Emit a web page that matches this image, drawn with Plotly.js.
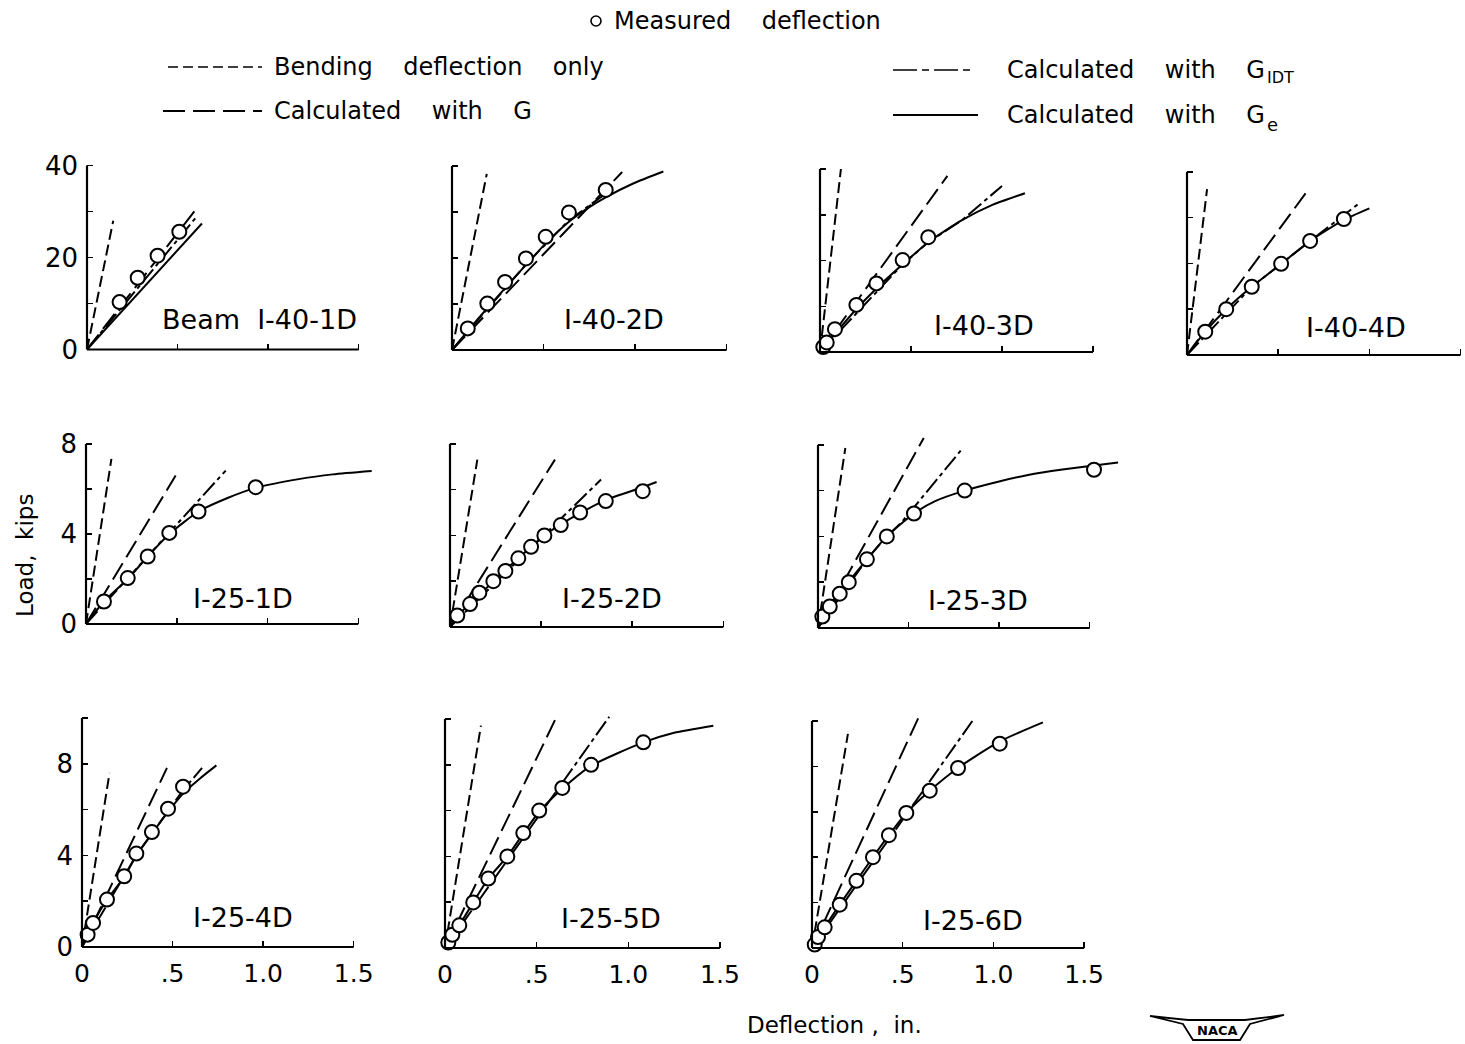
<!DOCTYPE html>
<html><head><meta charset="utf-8">
<script src="https://cdn.plot.ly/plotly-3.0.1.min.js"></script>
<style>html,body{margin:0;padding:0;background:#fff}#chart{width:1465px;height:1044px}</style>
</head><body><div id="chart"></div>
<script>
// ================= DATA =================
const panelNames = ['Beam\u00a0\u00a0I-40-1D','I-40-2D','I-40-3D','I-40-4D','I-25-1D','I-25-2D','I-25-3D','I-25-4D','I-25-5D','I-25-6D'];
const xTickVals = [0, 0.5, 1.0, 1.5];
const xTickText = ['0', '.5', '1.0', '1.5'];
const yMajor40 = [0, 20, 40];  const yMinor40 = [10, 30];
const yMajor8 = [0, 4, 8];     const yMinor8 = [2, 6];
const yMajor10 = [0, 4, 8];    const yMinor10 = [2, 6, 10];

// I-40-1D
const i40_1_measX = [0.18, 0.28, 0.39, 0.51];
const i40_1_measY = [10.3, 15.6, 20.4, 25.6];
const i40_1_bendX = [0, 0.145]; const i40_1_bendY = [0, 28];
const i40_1_gX = [0, 0.61];     const i40_1_gY = [0, 30.9];
const i40_1_idtX = [0, 0.60];   const i40_1_idtY = [0, 28.6];
const i40_1_geX = [0, 0.635];   const i40_1_geY = [0, 27.4];
// I-40-2D
const i40_2_measX = [0.086, 0.193, 0.29, 0.404, 0.512, 0.639, 0.84];
const i40_2_measY = [4.7, 10.1, 14.8, 19.9, 24.6, 29.9, 34.8];
const i40_2_bendX = [0, 0.19];  const i40_2_bendY = [0, 38.3];
const i40_2_gX = [0, 0.93];     const i40_2_gY = [0, 38.7];
const i40_2_idtX = [0, 0.404, 0.639, 0.84];  const i40_2_idtY = [0, 18.6, 28.2, 34.0];
const i40_2_geX = [0, 0.1, 0.193, 0.3, 0.404, 0.52, 0.639, 0.74, 0.84, 0.99, 1.155];
const i40_2_geY = [0, 4.8, 9.1, 13.9, 18.5, 23.5, 27.9, 30.8, 33.2, 36.2, 38.8];
// I-40-3D
const i40_3_measX = [0.018, 0.037, 0.082, 0.20, 0.31, 0.454, 0.595];
const i40_3_measY = [1.1, 2.1, 5.0, 10.3, 15.0, 20.1, 25.1];
const i40_3_bendX = [0, 0.115]; const i40_3_bendY = [0, 40];
const i40_3_gX = [0, 0.70];     const i40_3_gY = [0, 38.5];
const i40_3_idtX = [0, 0.45, 0.595, 0.78, 1.0]; const i40_3_idtY = [0, 19.0, 24.0, 28.8, 36.3];
const i40_3_geX = [0, 0.1, 0.2, 0.31, 0.45, 0.595, 0.78, 0.95, 1.126];
const i40_3_geY = [0, 4.8, 9.4, 13.9, 19.0, 24.0, 28.8, 32.2, 34.7];
// I-40-4D
const i40_4_measX = [0.10, 0.215, 0.355, 0.516, 0.675, 0.86];
const i40_4_measY = [5.1, 10.0, 14.9, 19.9, 24.9, 29.7];
const i40_4_bendX = [0, 0.11];  const i40_4_bendY = [0, 36.2];
const i40_4_gX = [0, 0.65];     const i40_4_gY = [0, 35.3];
const i40_4_idtX = [0, 0.355, 0.516, 0.675, 0.94]; const i40_4_idtY = [0, 14.9, 19.9, 24.9, 33.0];
const i40_4_geX = [0, 0.10, 0.215, 0.355, 0.516, 0.675, 0.86, 1.0];
const i40_4_geY = [0, 5.1, 10.0, 14.9, 19.9, 24.9, 29.5, 32.0];
// I-25-1D
const i25_1_measX = [0.099, 0.23, 0.34, 0.459, 0.62, 0.935];
const i25_1_measY = [1.0, 2.04, 3.0, 4.05, 5.0, 6.08];
const i25_1_bendX = [0, 0.14];  const i25_1_bendY = [0, 7.34];
const i25_1_gX = [0, 0.494];    const i25_1_gY = [0, 6.6];
const i25_1_idtX = [0, 0.77];   const i25_1_idtY = [0, 6.82];
const i25_1_geX = [0, 0.099, 0.23, 0.34, 0.459, 0.62, 0.78, 0.935, 1.18, 1.36, 1.574];
const i25_1_geY = [0, 1.0, 2.0, 3.0, 4.0, 5.0, 5.6, 6.05, 6.45, 6.65, 6.8];
// I-25-2D
const i25_2_measX = [0.04, 0.11, 0.161, 0.238, 0.304, 0.375, 0.445, 0.518, 0.608, 0.714, 0.855, 1.058];
const i25_2_measY = [0.5, 1.0, 1.5, 2.0, 2.45, 3.0, 3.5, 4.0, 4.45, 5.0, 5.5, 5.93];
const i25_2_bendX = [0, 0.15];  const i25_2_bendY = [0, 7.31];
const i25_2_gX = [0, 0.576];    const i25_2_gY = [0, 7.31];
const i25_2_idtX = [0, 0.829];  const i25_2_idtY = [0, 6.44];
const i25_2_geX = [0, 0.04, 0.11, 0.238, 0.375, 0.518, 0.608, 0.714, 0.855, 1.058, 1.134];
const i25_2_geY = [0, 0.5, 1.0, 2.0, 3.0, 4.0, 4.48, 4.97, 5.55, 6.1, 6.33];
// I-25-3D
const i25_3_measX = [0.024, 0.065, 0.12, 0.17, 0.27, 0.38, 0.53, 0.81, 1.524];
const i25_3_measY = [0.5, 0.94, 1.5, 2.0, 3.0, 4.0, 5.0, 6.0, 6.91];
const i25_3_bendX = [0, 0.151]; const i25_3_bendY = [0, 7.86];
const i25_3_gX = [0, 0.584];    const i25_3_gY = [0, 8.3];
const i25_3_idtX = [0, 0.27, 0.38, 0.46, 0.80]; const i25_3_idtY = [0, 3.0, 4.0, 4.6, 7.86];
const i25_3_geX = [0, 0.12, 0.27, 0.38, 0.53, 0.65, 0.81, 1.0, 1.16, 1.35, 1.524, 1.657];
const i25_3_geY = [0, 1.5, 3.0, 4.0, 5.0, 5.55, 6.0, 6.4, 6.68, 6.92, 7.1, 7.23];
// I-25-4D
const i25_4_measX = [0.031, 0.061, 0.138, 0.233, 0.30, 0.386, 0.475, 0.558];
const i25_4_measY = [0.54, 1.05, 2.07, 3.09, 4.08, 5.02, 6.04, 7.0];
const i25_4_bendX = [0, 0.152]; const i25_4_bendY = [0, 7.6];
const i25_4_gX = [0, 0.469];    const i25_4_gY = [0, 7.82];
const i25_4_idtX = [0, 0.30, 0.386, 0.475, 0.558, 0.663]; const i25_4_idtY = [0, 4.0, 4.95, 5.95, 6.85, 7.82];
const i25_4_geX = [0, 0.031, 0.061, 0.138, 0.233, 0.30, 0.386, 0.475, 0.558, 0.65, 0.742];
const i25_4_geY = [0, 0.54, 1.05, 2.07, 3.05, 4.0, 4.95, 5.9, 6.7, 7.35, 7.93];
// I-25-5D
const i25_5_measX = [0.018, 0.04, 0.078, 0.154, 0.236, 0.34, 0.427, 0.514, 0.64, 0.797, 1.082];
const i25_5_measY = [0.24, 0.58, 0.99, 1.99, 3.03, 4.0, 5.02, 6.0, 6.99, 8.0, 8.98];
const i25_5_bendX = [0, 0.196]; const i25_5_bendY = [0, 9.71];
const i25_5_gX = [0, 0.609];    const i25_5_gY = [0, 10.1];
const i25_5_idtX = [0, 0.896];  const i25_5_idtY = [0, 10.1];
const i25_5_geX = [0, 0.078, 0.154, 0.236, 0.34, 0.427, 0.514, 0.64, 0.797, 1.082, 1.25, 1.464];
const i25_5_geY = [0, 0.99, 1.99, 3.03, 4.0, 5.0, 5.95, 6.95, 7.95, 8.98, 9.4, 9.71];
// I-25-6D
const i25_6_measX = [0.015, 0.033, 0.07, 0.153, 0.245, 0.336, 0.424, 0.52, 0.649, 0.805, 1.035];
const i25_6_measY = [0.15, 0.48, 0.91, 1.91, 2.96, 4.0, 4.97, 5.95, 6.93, 7.93, 9.0];
const i25_6_bendX = [0, 0.198]; const i25_6_bendY = [0, 9.43];
const i25_6_gX = [0, 0.59];     const i25_6_gY = [0, 10.2];
const i25_6_idtX = [0, 0.884];  const i25_6_idtY = [0, 10.0];
const i25_6_geX = [0, 0.07, 0.153, 0.245, 0.336, 0.424, 0.52, 0.649, 0.805, 1.035, 1.273];
const i25_6_geY = [0, 0.91, 1.91, 2.96, 4.0, 4.97, 5.95, 6.93, 7.93, 9.1, 9.94];

const panelData = [
  {measX:i40_1_measX, measY:i40_1_measY, bendX:i40_1_bendX, bendY:i40_1_bendY, gX:i40_1_gX, gY:i40_1_gY, idtX:i40_1_idtX, idtY:i40_1_idtY, geX:i40_1_geX, geY:i40_1_geY},
  {measX:i40_2_measX, measY:i40_2_measY, bendX:i40_2_bendX, bendY:i40_2_bendY, gX:i40_2_gX, gY:i40_2_gY, idtX:i40_2_idtX, idtY:i40_2_idtY, geX:i40_2_geX, geY:i40_2_geY},
  {measX:i40_3_measX, measY:i40_3_measY, bendX:i40_3_bendX, bendY:i40_3_bendY, gX:i40_3_gX, gY:i40_3_gY, idtX:i40_3_idtX, idtY:i40_3_idtY, geX:i40_3_geX, geY:i40_3_geY},
  {measX:i40_4_measX, measY:i40_4_measY, bendX:i40_4_bendX, bendY:i40_4_bendY, gX:i40_4_gX, gY:i40_4_gY, idtX:i40_4_idtX, idtY:i40_4_idtY, geX:i40_4_geX, geY:i40_4_geY},
  {measX:i25_1_measX, measY:i25_1_measY, bendX:i25_1_bendX, bendY:i25_1_bendY, gX:i25_1_gX, gY:i25_1_gY, idtX:i25_1_idtX, idtY:i25_1_idtY, geX:i25_1_geX, geY:i25_1_geY},
  {measX:i25_2_measX, measY:i25_2_measY, bendX:i25_2_bendX, bendY:i25_2_bendY, gX:i25_2_gX, gY:i25_2_gY, idtX:i25_2_idtX, idtY:i25_2_idtY, geX:i25_2_geX, geY:i25_2_geY},
  {measX:i25_3_measX, measY:i25_3_measY, bendX:i25_3_bendX, bendY:i25_3_bendY, gX:i25_3_gX, gY:i25_3_gY, idtX:i25_3_idtX, idtY:i25_3_idtY, geX:i25_3_geX, geY:i25_3_geY},
  {measX:i25_4_measX, measY:i25_4_measY, bendX:i25_4_bendX, bendY:i25_4_bendY, gX:i25_4_gX, gY:i25_4_gY, idtX:i25_4_idtX, idtY:i25_4_idtY, geX:i25_4_geX, geY:i25_4_geY},
  {measX:i25_5_measX, measY:i25_5_measY, bendX:i25_5_bendX, bendY:i25_5_bendY, gX:i25_5_gX, gY:i25_5_gY, idtX:i25_5_idtX, idtY:i25_5_idtY, geX:i25_5_geX, geY:i25_5_geY},
  {measX:i25_6_measX, measY:i25_6_measY, bendX:i25_6_bendX, bendY:i25_6_bendY, gX:i25_6_gX, gY:i25_6_gY, idtX:i25_6_idtX, idtY:i25_6_idtY, geX:i25_6_geX, geY:i25_6_geY}
];

// ================= LAYOUT GEOMETRY =================
const W = 1465, H = 1044;
const FONT = 'DejaVu Sans, Liberation Sans, sans-serif';
const geo = [
  {x0:87,  y0:349.5, sx:181,   sy:4.6,   xmax:1.75, ymax:42,   ytop:40, row:1},
  {x0:452, y0:350,   sx:183,   sy:4.6,   xmax:1.75, ymax:42,   ytop:40, row:1},
  {x0:820, y0:352,   sx:182,   sy:4.575, xmax:1.75, ymax:42,   ytop:40, row:1},
  {x0:1187,y0:355,   sx:182.4, sy:4.58,  xmax:1.52, ymax:42,   ytop:40, row:1},
  {x0:86,  y0:624,   sx:181.5, sy:22.5,  xmax:1.75, ymax:8.6,  ytop:8,  row:2},
  {x0:450, y0:627,   sx:182.2, sy:22.9,  xmax:1.75, ymax:8.6,  ytop:8,  row:2},
  {x0:818, y0:628,   sx:181.1, sy:22.9,  xmax:1.75, ymax:8.6,  ytop:8,  row:2},
  {x0:82,  y0:947,   sx:181.1, sy:22.9,  xmax:1.75, ymax:10.6, ytop:10, row:3},
  {x0:445, y0:948,   sx:183.3, sy:22.9,  xmax:1.75, ymax:10.6, ytop:10, row:3},
  {x0:812, y0:948,   sx:181.4, sy:22.7,  xmax:1.75, ymax:10.6, ytop:10, row:3}
];
const X_AXIS_END = 1.5;
const labelPos = [[259,320],[614,320],[984,325],[1356,327],[243,598],[612,598],[978,600],[243,917],[611,918],[973,920]];
const px = v => v / W;
const py = v => 1 - v / H;

const LW = 2;
const DASH_BEND = '11px,5px';
const DASH_G = '19px,7px';
const DASH_IDT = '17px,4px,4px,4px';

const traces = [];
const layout = {
  width: W, height: H,
  margin: {l:0, r:0, t:0, b:0},
  paper_bgcolor: 'white', plot_bgcolor: 'rgba(0,0,0,0)',
  showlegend: false,
  font: {family: FONT, color: 'black'},
  annotations: [], shapes: []
};

geo.forEach((g, i) => {
  const k = i === 0 ? '' : String(i + 1);
  const d = panelData[i];
  const xa = 'x' + k, ya = 'y' + k;
  const isFirstCol = (i === 0 || i === 4 || i === 7);
  let ymaj, ymin;
  if (g.row === 1) { ymaj = yMajor40; ymin = yMinor40; }
  else if (g.row === 2) { ymaj = yMajor8; ymin = yMinor8; }
  else { ymaj = yMajor10; ymin = yMinor10; }
  const tickStyle = {ticks: 'inside', ticklen: 6, tickwidth: 1.5, tickcolor: 'black'};
  layout['xaxis' + k] = Object.assign({
    domain: [px(g.x0), px(g.x0 + g.xmax * g.sx)], range: [0, g.xmax], anchor: ya,
    showline: false, showgrid: false, zeroline: false,
    tickmode: 'array', tickvals: xTickVals, ticktext: xTickText,
    showticklabels: g.row === 3,
    tickfont: {family: FONT, size: 25, color: 'black'}, ticklabelstandoff: 9,
    fixedrange: true
  }, tickStyle);
  layout['yaxis' + k] = Object.assign({
    domain: [py(g.y0), py(g.y0 - g.ymax * g.sy)], range: [0, g.ymax], anchor: xa,
    showline: false, showgrid: false, zeroline: false,
    tickmode: 'array', tickvals: ymaj, ticktext: ymaj.map(String),
    showticklabels: isFirstCol,
    minor: Object.assign({tickmode: 'array', tickvals: ymin, showgrid: false}, tickStyle),
    tickfont: {family: FONT, size: 26, color: 'black'}, ticklabelstandoff: 8,
    fixedrange: true
  }, tickStyle);
  // axis lines (paper px from panel geometry)
  layout.shapes.push({type:'line', xref:'paper', yref:'paper',
    x0: px(g.x0), x1: px(g.x0 + X_AXIS_END * g.sx), y0: py(g.y0), y1: py(g.y0), line:{color:'black', width:2.2}});
  layout.shapes.push({type:'line', xref:'paper', yref:'paper',
    x0: px(g.x0), x1: px(g.x0), y0: py(g.y0), y1: py(g.y0 - g.ytop * g.sy), line:{color:'black', width:2.2}});

  traces.push({type:'scatter', mode:'lines', x:d.bendX, y:d.bendY, xaxis:xa, yaxis:ya,
    line:{color:'black', width:LW, dash:DASH_BEND}, hoverinfo:'skip'});
  traces.push({type:'scatter', mode:'lines', x:d.gX, y:d.gY, xaxis:xa, yaxis:ya,
    line:{color:'black', width:LW, dash:DASH_G}, hoverinfo:'skip'});
  traces.push({type:'scatter', mode:'lines', x:d.idtX, y:d.idtY, xaxis:xa, yaxis:ya,
    line:{color:'black', width:LW, dash:DASH_IDT}, hoverinfo:'skip'});
  traces.push({type:'scatter', mode:'lines', x:d.geX, y:d.geY, xaxis:xa, yaxis:ya,
    line:{color:'black', width:LW, shape:'spline', smoothing:0.6}, hoverinfo:'skip'});
  traces.push({type:'scatter', mode:'markers', x:d.measX, y:d.measY, xaxis:xa, yaxis:ya,
    cliponaxis:false,
    marker:{symbol:'circle', size:14, color:'white', line:{color:'black', width:2}}, hoverinfo:'skip'});

  layout.annotations.push({xref:'paper', yref:'paper', x:px(labelPos[i][0]), y:py(labelPos[i][1]),
    text: panelNames[i], showarrow:false, xanchor:'center', yanchor:'middle',
    font:{family:FONT, size:27, color:'black'}});
});

// ===== Legend (annotations + sample shapes) =====
const sp = '\u00a0\u00a0\u00a0\u00a0';
const legendFont = {family: FONT, size: 24, color: 'black'};
const subFont = {family: FONT, size: 16, color: 'black'};
function note(x, y, text, font, anchor) {
  layout.annotations.push({xref:'paper', yref:'paper', x:px(x), y:py(y), text:text, showarrow:false,
    xanchor: anchor || 'left', yanchor:'middle', font:font});
}
layout.shapes.push({type:'circle', xref:'paper', yref:'paper', x0:px(591), x1:px(601), y0:py(16), y1:py(26), line:{color:'black', width:1.6}});
note(612, 21, 'Measured' + sp + 'deflection', legendFont);
layout.shapes.push({type:'line', xref:'paper', yref:'paper', x0:px(168), x1:px(262), y0:py(67), y1:py(67), line:{color:'black', width:1.6, dash:'10px,5px'}});
note(272, 67, 'Bending' + sp + 'deflection' + sp + 'only', legendFont);
layout.shapes.push({type:'line', xref:'paper', yref:'paper', x0:px(163), x1:px(262), y0:py(111), y1:py(111), line:{color:'black', width:1.8, dash:'22px,8px'}});
note(272, 111, 'Calculated' + sp + 'with' + sp + 'G', legendFont);
layout.shapes.push({type:'line', xref:'paper', yref:'paper', x0:px(893), x1:px(975), y0:py(70), y1:py(70), line:{color:'black', width:1.6, dash:'24px,5px,7px,5px'}});
note(1005, 70, 'Calculated' + sp + 'with' + sp + 'G', legendFont);
note(1265, 78, 'IDT', subFont);
layout.shapes.push({type:'line', xref:'paper', yref:'paper', x0:px(893), x1:px(978), y0:py(115), y1:py(115), line:{color:'black', width:2}});
note(1005, 115, 'Calculated' + sp + 'with' + sp + 'G', legendFont);
note(1265, 124, 'e', {family: FONT, size: 18, color: 'black'});

// axis titles
note(25, 556, '', legendFont); layout.annotations.pop();
layout.annotations.push({xref:'paper', yref:'paper', x:px(25), y:py(556), text:'Load,\u00a0\u00a0kips', textangle:-90, showarrow:false, xanchor:'center', yanchor:'middle', font:{family:FONT, size:23, color:'black'}});
note(834, 1025, 'Deflection\u00a0,\u00a0\u00a0in.', {family:FONT, size:23, color:'black'}, 'center');

// NACA mark
const nacaPath = [[1150,1016],[1183,1024],[1193,1040],[1240,1040],[1250,1024],[1284,1015],[1245,1020],[1188,1020]];
layout.shapes.push({type:'path', xref:'paper', yref:'paper',
  path: 'M ' + nacaPath.map(p => px(p[0]) + ',' + py(p[1])).join(' L ') + ' Z',
  line:{color:'black', width:1.8}, fillcolor:'white'});
note(1217, 1030, '<b>NACA</b>', {family:FONT, size:13, color:'black'}, 'center');

Plotly.newPlot('chart', traces, layout, {staticPlot: true, displayModeBar: false});
</script>
</body></html>
